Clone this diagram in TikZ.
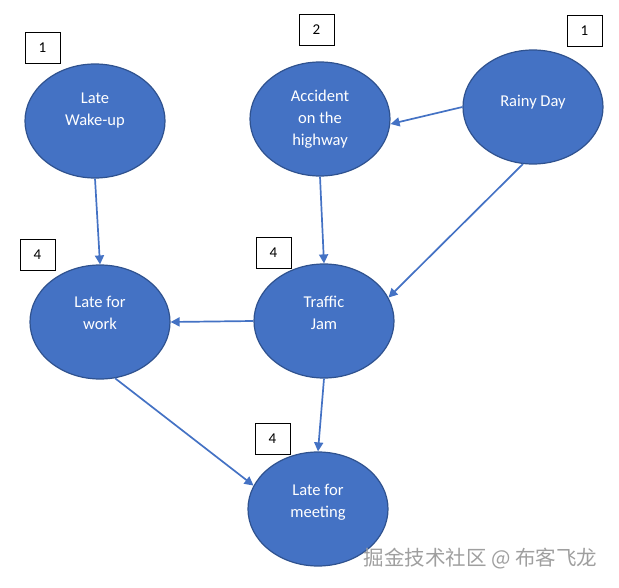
\documentclass[tikz,border=0pt]{standalone}
\usepackage{fontspec}
\setmainfont{Carlito}
\newfontfamily\cjk{Noto Sans CJK SC}
\usetikzlibrary{shapes.geometric,arrows.meta}
\definecolor{nodefill}{HTML}{4472C4}
\definecolor{nodeline}{HTML}{2F528F}
\tikzset{
  ev/.style={ellipse,draw=nodeline,line width=1.2pt,fill=nodefill,
    minimum width=140pt,minimum height=114pt,inner sep=0pt},
  evtext/.style={text=white,align=center,inner sep=0pt,
    font=\fontsize{16.5}{22}\selectfont},
  numbox/.style={draw=black,line width=0.8pt,minimum width=35pt,minimum height=31pt,
    inner sep=0pt,font=\fontsize{15}{17}\selectfont},
  link/.style={draw=nodefill,line width=1.7pt,-{Triangle[width=9pt,length=9pt]}}
}
\begin{document}
\begin{tikzpicture}[x=1pt,y=-1pt]
\useasboundingbox (0,0) rectangle (619,588);
\node[ev] (wake) at (95,121) {};
\node[ev] (acc) at (320,119) {};
\node[ev] (rain) at (533,107) {};
\node[ev] (work) at (100,322) {};
\node[ev] (jam) at (324,321) {};
\node[ev] (meet) at (318,509) {};
\node[evtext] (wakeT) at ([yshift=10pt]wake.center) {Late\\Wake-up};
\node[evtext] (accT) at ([yshift=0pt]acc.center) {Accident\\on the\\highway};
\node[evtext] (rainT) at ([yshift=5pt]rain.center) {Rainy Day};
\node[evtext] (workT) at ([yshift=9pt]work.center) {Late for\\work};
\node[evtext] (jamT) at ([yshift=8pt]jam.center) {Traffic\\Jam};
\node[evtext] (meetT) at ([yshift=7pt]meet.center) {Late for\\meeting};
\node[numbox] (b1) at (42.5,48) {1};
\node[numbox] (b2) at (316.5,30) {2};
\node[numbox] (b3) at (584.5,31) {1};
\node[numbox] (b4) at (37.5,255) {4};
\node[numbox] (b5) at (273.5,252.5) {4};
\node[numbox] (b6) at (272.5,438.5) {4};
\draw[link] (wake.south) -- (work.north);
\draw[link] (rain.west) -- ([yshift=-5pt]acc.east);
\draw[link] (acc.south) -- (jam.north);
\draw[link] (rain.-100) -- (jam.20);
\draw[link] (jam.west) -- (work.east);
\draw[link] (work.-75) -- (meet.160);
\draw[link] (jam.south) -- (meet.north);
\node[text=gray!75!white,font=\cjk\fontsize{20.5}{24}\selectfont,anchor=west] (wm) at (360,559) {掘金技术社区 @ 布客飞龙};
\end{tikzpicture}
\end{document}
